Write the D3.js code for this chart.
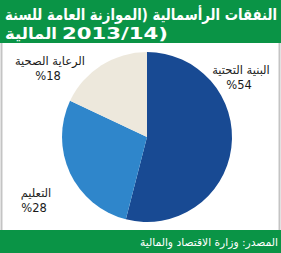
<!DOCTYPE html>
<html>
<head>
<meta charset="utf-8">
<script src="https://cdn.jsdelivr.net/npm/d3@7"></script>
<style>
  html, body { margin: 0; padding: 0; background: #fff; }
  svg { display: block; }
</style>
</head>
<body>
<div id="chart"></div>
<script>
// Données
const categories = ["البنية التحتية", "التعليم", "الرعاية الصحية"]
const shares = [54, 28, 18]
const shareLabels = ["%54", "%28", "%18"]
const titleLine1 = "النفقات الرأسمالية (الموازنة العامة للسنة"
const titleLine2 = ["المالية", "2013/14)"]
const source = "المصدر: وزارة الاقتصاد والمالية"

const W = 281, H = 253
const colors = ["#184a93", "#2f86cb", "#ede8dc"]
const green = "#0a9446"
const font = "'DejaVu Sans', sans-serif"

// position des étiquettes (centre du texte)
const labelPos = [[241, 70], [36, 193], [50, 61]]

const svg = d3.select("#chart").append("svg")
  .attr("width", W).attr("height", H)
  .style("background", "#fff")

// bandeau titre
svg.append("rect").attr("x", 0).attr("y", 0).attr("width", W).attr("height", 43).attr("fill", green)
svg.append("text")
  .attr("x", 5).attr("y", 20)
  .attr("fill", "#fff").attr("font-family", font).attr("font-size", 15.5).attr("font-weight", "bold")
  .attr("textLength", 272).attr("lengthAdjust", "spacingAndGlyphs")
  .text(titleLine1)
svg.append("text")
  .attr("x", 5).attr("y", 39)
  .attr("fill", "#fff").attr("font-family", font).attr("font-size", 15.5).attr("font-weight", "bold")
  .attr("textLength", 52).attr("lengthAdjust", "spacingAndGlyphs")
  .text(titleLine2[0])
svg.append("text")
  .attr("x", 62).attr("y", 39)
  .attr("fill", "#fff").attr("font-family", font).attr("font-size", 15.5).attr("font-weight", "bold")
  .attr("textLength", 106).attr("lengthAdjust", "spacingAndGlyphs")
  .style("direction", "ltr").style("unicode-bidi", "bidi-override")
  .text(titleLine2[1])

// bordures du panneau
svg.append("line").attr("x1", 1.5).attr("x2", 1.5).attr("y1", 43).attr("y2", 230)
  .attr("stroke", "#c4c4c4").attr("stroke-width", 2)
svg.append("line").attr("x1", 279.5).attr("x2", 279.5).attr("y1", 43).attr("y2", 230)
  .attr("stroke", "#c4c4c4").attr("stroke-width", 2)

// camembert
const pie = d3.pie().sort(null).value(d => d)
const arc = d3.arc().innerRadius(0).outerRadius(85)
const g = svg.append("g").attr("transform", "translate(147,137)")
g.selectAll("path")
  .data(pie(shares))
  .join("path")
  .attr("d", arc)
  .attr("fill", (d, i) => colors[i])

// étiquettes
categories.forEach((c, i) => {
  const [lx, ly] = labelPos[i]
  svg.append("text")
    .attr("x", lx).attr("y", ly + 4)
    .attr("text-anchor", "middle")
    .attr("fill", "#1a1a1a").attr("font-family", font).attr("font-size", 11.5)
    .text(c)
  svg.append("text")
    .attr("x", lx - 2).attr("y", ly + 19)
    .attr("text-anchor", "middle")
    .attr("fill", "#1a1a1a").attr("font-family", font).attr("font-size", 11.5)
    .text(shareLabels[i])
})

// bandeau source
svg.append("rect").attr("x", 0).attr("y", 230).attr("width", W).attr("height", H - 230).attr("fill", green)
svg.append("text")
  .attr("x", 278).attr("y", 246)
  .attr("text-anchor", "end")
  .attr("fill", "#fff").attr("font-family", font).attr("font-size", 11)
  .attr("textLength", 138).attr("lengthAdjust", "spacingAndGlyphs")
  .text(source)
</script>
</body>
</html>
